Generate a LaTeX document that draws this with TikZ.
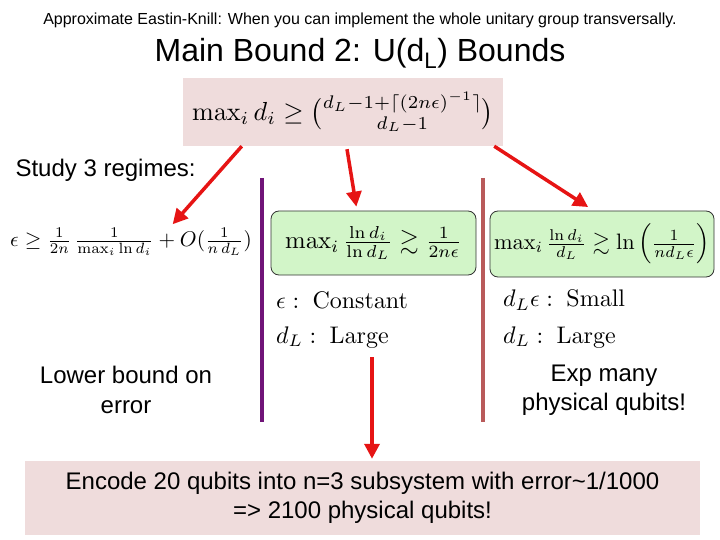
\documentclass[tikz,border=0pt]{standalone}
\usepackage{amsmath,amssymb}
\usepackage{graphicx}
\usepackage[no-math]{fontspec}
\setmainfont{Liberation Sans}
\usetikzlibrary{arrows.meta}
\definecolor{boxpink}{RGB}{239,220,220}
\definecolor{boxgreen}{RGB}{210,245,200}
\definecolor{linepurple}{RGB}{112,20,120}
\definecolor{linerose}{RGB}{185,90,90}
\definecolor{arrowred}{RGB}{230,20,20}
\newcommand{\fsz}[1]{\fontsize{#1}{1.22\dimexpr#1pt\relax}\selectfont}
\newcommand{\bigmath}[2]{\scalebox{#1}{$#2$}}
\tikzset{
  pinkbox/.style={fill=boxpink, inner sep=0pt},
  greenbox/.style={draw=black!80, line width=0.8pt, fill=boxgreen, rounded corners=8pt, inner sep=0pt},
  bodytext/.style={font=\fsz{24}, align=center},
  redarrow/.style={draw=arrowred, line width=3.5pt, -{Triangle[length=15pt,width=15pt]}, shorten >=1pt}
}
\begin{document}
\begin{tikzpicture}[x=1pt, y=-1pt]
\useasboundingbox (0,0) rectangle (720,540);
% headings
\node (head) at (360,20) {\fsz{16}Approximate Eastin-Knill: When you can implement the whole unitary group transversally.};
\node (title) at (360,53) {\fsz{32}Main Bound 2: U(d\textsubscript{L}) Bounds};
% main bound
\node[pinkbox, minimum width=320pt, minimum height=68pt] (bound) at (343,112)
  {\bigmath{2.61}{\max_i d_i \geq \tbinom{d_L-1+\lceil (2n\epsilon)^{-1}\rceil}{d_L-1}}};
\node[bodytext, anchor=west] (study) at (12,170) {Study 3 regimes:};
% three regimes
\node[anchor=west, inner sep=0pt] (eps) at (10,242)
  {\bigmath{2.13}{\epsilon \geq \tfrac{1}{2n}\,\tfrac{1}{\max_i \ln d_i} + O(\tfrac{1}{n\,d_L})}};
\node[greenbox, minimum width=205pt, minimum height=64pt] (reg1) at (373.5,243)
  {\bigmath{2.47}{\max_i \tfrac{\ln d_i}{\ln d_L} \gtrsim \tfrac{1}{2n\epsilon}}};
\node[greenbox, minimum width=224pt, minimum height=66pt] (reg2) at (602,244)
  {\bigmath{2.23}{\max_i \tfrac{\ln d_i}{d_L} \gtrsim \ln\left(\tfrac{1}{n d_L \epsilon}\right)}};
\node[anchor=west, inner sep=0pt] (const) at (276,300) {\bigmath{2.4}{\epsilon:\ \mathrm{Constant}}};
\node[anchor=west, inner sep=0pt] (large1) at (276,337) {\bigmath{2.4}{d_L:\ \mathrm{Large}}};
\node[anchor=west, inner sep=0pt] (small) at (503,300) {\bigmath{2.4}{d_L\epsilon:\ \mathrm{Small}}};
\node[anchor=west, inner sep=0pt] (large2) at (503,337) {\bigmath{2.4}{d_L:\ \mathrm{Large}}};
\node[bodytext] (lower) at (126,390) {Lower bound on\\error};
\node[bodytext] (expmany) at (604,390) {Exp many\\physical qubits!};
% separators
\draw[linepurple, line width=4pt] (262,178) -- (262,422);
\draw[linerose, line width=4pt] (483,178) -- (483,422);
% conclusion
\node[pinkbox, minimum width=675pt, minimum height=74pt, font=\fsz{24}, align=center] (encode) at (362.5,498)
  {Encode 20 qubits into n=3 subsystem with error\textasciitilde1/1000\\=> 2100 physical qubits!};
% arrows
\coordinate (tipeps) at (172,225);
\coordinate (fromlarge) at (372,357);
\draw[redarrow] ([xshift=59pt]bound.south west) -- (tipeps);
\draw[redarrow] ([xshift=4pt,yshift=-3pt]bound.south) -- ([xshift=-17pt,yshift=3pt]reg1.north);
\draw[redarrow] ([xshift=-9pt]bound.south east) -- ([xshift=-13pt,yshift=3pt]reg2.north);
\draw[redarrow] (fromlarge) -- ([xshift=9.5pt,yshift=1pt]encode.north);
\end{tikzpicture}
\end{document}
